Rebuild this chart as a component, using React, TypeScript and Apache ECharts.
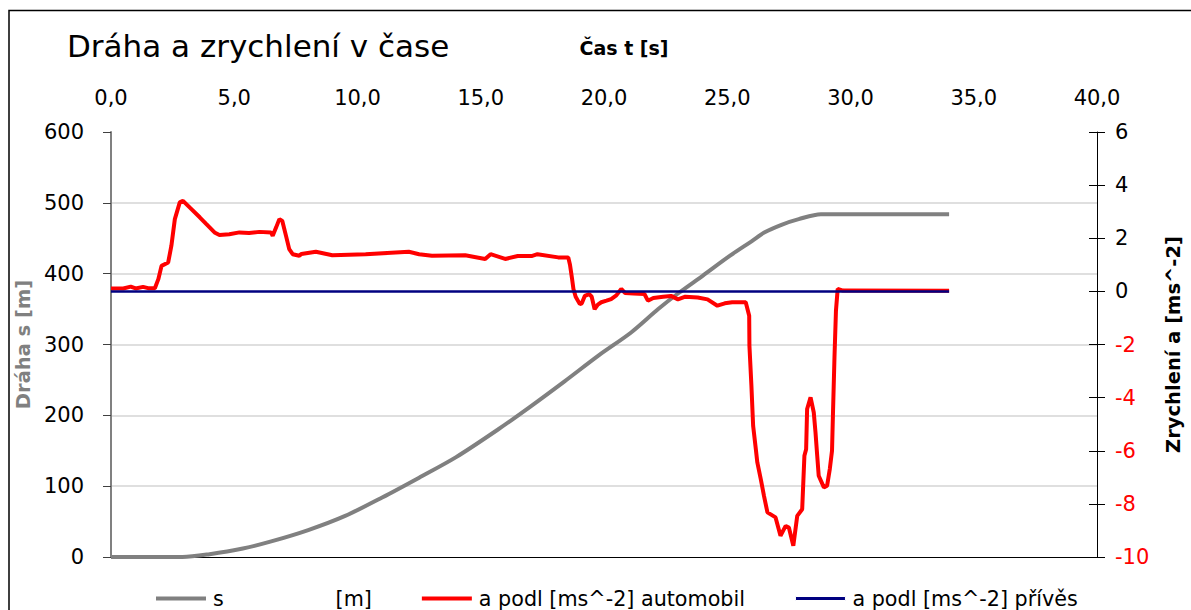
import React, { useEffect, useRef } from "react";
import * as echarts from "echarts";

// ---- data ----
const sTime = [0, 2.9, 4.0, 5.35, 6.5, 8.0, 9.5, 11.0, 12.5, 14.0, 15.7, 17.0, 18.4, 19.8, 21.1, 22.2, 23.0, 24.0, 25.1, 26.0, 26.5, 27.2, 27.9, 28.8, 34.0];
const sValues = [0, 0, 4, 12, 22, 38, 58, 84, 112, 141, 180, 212, 248, 285, 317, 350, 372, 397, 425, 446, 458, 469, 477, 484, 484];

const aCarTime = [
  0, 0.5, 0.8, 1.0, 1.3, 1.5, 1.78, 1.92, 2.05, 2.32, 2.45, 2.59, 2.79, 2.92, 3.19, 3.6, 3.87, 4.2, 4.4, 4.8, 5.21, 5.6, 6.02, 6.49, 6.56, 6.7, 6.83, 6.95, 7.1, 7.23, 7.37, 7.64,
  7.72, 8.31, 8.98, 10.33, 12.08, 12.5, 13.02, 14.37, 15.18, 15.4, 15.99, 16.5, 17.06, 17.3, 18.14, 18.55,
  18.62, 18.7, 18.76, 18.85, 19.02, 19.1, 19.22, 19.4, 19.5, 19.62, 19.75, 19.89, 20.1, 20.29, 20.5, 20.7, 20.85, 21.2, 21.64, 21.78, 22.0, 22.4, 22.72, 23.0, 23.3, 23.8, 24.2, 24.6, 24.9, 25.2, 25.75,
  25.89, 25.9, 25.98, 26.05, 26.16, 26.22, 26.36, 26.49, 26.63, 26.96, 27.16, 27.37, 27.5, 27.68, 27.84, 28.04, 28.13, 28.2, 28.24, 28.38, 28.51, 28.58, 28.65, 28.71, 28.92, 29.05, 29.16, 29.25, 29.29, 29.35, 29.41, 29.48, 29.7, 34.0,
];
const aCarValues = [
  0.11, 0.11, 0.18, 0.11, 0.17, 0.12, 0.12, 0.46, 0.96, 1.09, 1.72, 2.72, 3.35, 3.41, 3.16, 2.79, 2.53, 2.22, 2.12, 2.15, 2.22, 2.2, 2.24, 2.22, 2.09, 2.41, 2.72, 2.65, 2.09, 1.59, 1.4, 1.34,
  1.41, 1.49, 1.36, 1.4, 1.49, 1.4, 1.34, 1.36, 1.22, 1.4, 1.22, 1.33, 1.33, 1.4, 1.28, 1.28,
  1.0, 0.5, 0.09, -0.2, -0.48, -0.45, -0.17, -0.1, -0.2, -0.67, -0.5, -0.41, -0.35, -0.29, -0.15, 0.09, -0.06, -0.08, -0.1, -0.35, -0.25, -0.2, -0.17, -0.3, -0.2, -0.23, -0.3, -0.54, -0.45, -0.41, -0.41,
  -0.92, -2.05, -3.55, -5.06, -5.94, -6.44, -7.07, -7.7, -8.32, -8.51, -9.2, -8.83, -8.89, -9.58, -8.45, -8.2, -6.19, -5.94, -4.43, -3.99, -4.56, -5.31, -6.19, -6.94, -7.38, -7.32, -6.69, -6.0, -4.56, -2.48, -0.73, 0.09, 0.03, 0.02,
];

const aTrailerTime = [0, 34];
const aTrailerValues = [0, 0];

const xTicks = { min: 0, max: 40, interval: 5 };
const sAxis = { min: 0, max: 600, interval: 100 };
const aAxis = { min: -10, max: 6, interval: 2 };

const seriesNames = [
  "s" + "\u00a0".repeat(17) + "[m]",
  "a podl [ms^-2] automobil",
  "a podl [ms^-2] přívěs",
];
const seriesColors = ["#808080", "#ff0000", "#000080"];

const zip = (xs: number[], ys: number[]) => xs.map((x, i) => [x, ys[i]]);

const FONT = "DejaVu Sans";

export default function App() {
  const ref = useRef<HTMLDivElement>(null);
  useEffect(() => {
    if (!ref.current) return;
    const chart = echarts.init(ref.current, undefined, { renderer: "svg" });
    chart.setOption({
      animation: false,
      textStyle: { fontFamily: FONT },
      title: {
        text: "Dráha a zrychlení v čase",
        left: 67,
        top: 30,
        padding: 0,
        textStyle: { fontFamily: FONT, fontSize: 31, fontWeight: "normal", color: "#000" },
      },
      legend: {
        left: 156,
        top: 588,
        itemWidth: 50,
        itemHeight: 4,
        itemGap: 50,
        padding: 0,
        textStyle: { fontFamily: FONT, fontSize: 20.7, color: "#000", lineHeight: 20, padding: [0, 0, 0, 2] },
        data: [
          { name: seriesNames[0], icon: "rect", itemStyle: { color: seriesColors[0], borderWidth: 0 } },
          { name: seriesNames[1], icon: "rect", itemStyle: { color: seriesColors[1], borderWidth: 0 } },
          { name: seriesNames[2], icon: "rect", itemStyle: { color: seriesColors[2], borderColor: "#ffffff", borderWidth: 1 } },
        ],
      },
      grid: { left: 111, right: 90, top: 132, bottom: 53, containLabel: false },
      xAxis: {
        type: "value",
        position: "top",
        min: xTicks.min,
        max: xTicks.max,
        interval: xTicks.interval,
        name: "Čas t [s]",
        nameLocation: "middle",
        nameGap: 75,
        nameTextStyle: { fontFamily: FONT, fontSize: 19, fontWeight: "bold", color: "#000", padding: [0, 0, 0, 40] },
        axisLine: { show: true, lineStyle: { color: "#000", width: 1 } },
        axisTick: { show: false },
        splitLine: { show: false },
        axisLabel: {
          margin: 24,
          fontSize: 21,
          color: "#000",
          formatter: (v: number) => v.toFixed(1).replace(".", ","),
        },
      },
      yAxis: [
        {
          type: "value",
          position: "left",
          min: sAxis.min,
          max: sAxis.max,
          interval: sAxis.interval,
          name: "Dráha s [m]",
          nameLocation: "middle",
          nameGap: 71,
          nameTextStyle: { fontFamily: FONT, fontSize: 19.5, fontWeight: "bold", color: "#808080" },
          axisLine: { show: true, lineStyle: { color: "#808080", width: 2 } },
          axisTick: { show: true, length: 8, lineStyle: { color: "#404040", width: 1 } },
          axisLabel: { margin: 27, fontSize: 21, color: "#000" },
          splitLine: { show: true, showMinLine: false, showMaxLine: false, lineStyle: { color: "#d4d4d4", width: 1.5 } },
        },
        {
          type: "value",
          position: "right",
          min: aAxis.min,
          max: aAxis.max,
          interval: aAxis.interval,
          name: "Zrychlení a [ms^-2]",
          nameLocation: "middle",
          nameGap: 66,
          nameTextStyle: { fontFamily: FONT, fontSize: 19.5, fontWeight: "bold", color: "#000" },
          axisLine: { show: true, lineStyle: { color: "#000", width: 1 } },
          axisTick: { show: true, length: 8, lineStyle: { color: "#000", width: 1 } },
          axisLabel: {
            margin: 18,
            fontSize: 21,
            color: (v: any) => (Number(v) < 0 ? "#ff0000" : "#000"),
          },
          splitLine: { show: false },
        },
        {
          type: "value",
          position: "right",
          min: aAxis.min,
          max: aAxis.max,
          interval: aAxis.interval,
          axisLine: { show: false },
          axisTick: { show: true, inside: true, length: 8, lineStyle: { color: "#000", width: 1 } },
          axisLabel: { show: false },
          splitLine: { show: false },
        },
      ],
      graphic: [
        {
          type: "rect",
          shape: { x: 9, y: 10.5, width: 1300, height: 800 },
          style: { fill: "none", stroke: "#000", lineWidth: 1.5 },
          silent: true,
        },
      ],
      series: [
        {
          name: seriesNames[0],
          type: "line",
          yAxisIndex: 0,
          data: zip(sTime, sValues),
          smooth: 0.3,
          symbol: "none",
          lineStyle: { color: seriesColors[0], width: 4 },
          itemStyle: { color: seriesColors[0] },
        },
        {
          name: seriesNames[1],
          type: "line",
          yAxisIndex: 1,
          data: zip(aCarTime, aCarValues),
          symbol: "none",
          lineStyle: { color: seriesColors[1], width: 4 },
          itemStyle: { color: seriesColors[1] },
        },
        {
          name: seriesNames[2],
          type: "line",
          yAxisIndex: 1,
          data: zip(aTrailerTime, aTrailerValues),
          symbol: "none",
          lineStyle: { color: seriesColors[2], width: 2.5 },
          itemStyle: { color: seriesColors[2] },
        },
      ],
    });
    return () => chart.dispose();
  }, []);
  return (
    <div
      ref={ref}
      style={{ position: "fixed", left: 0, top: 0, width: 1191, height: 610, background: "#fff" }}
    />
  );
}
